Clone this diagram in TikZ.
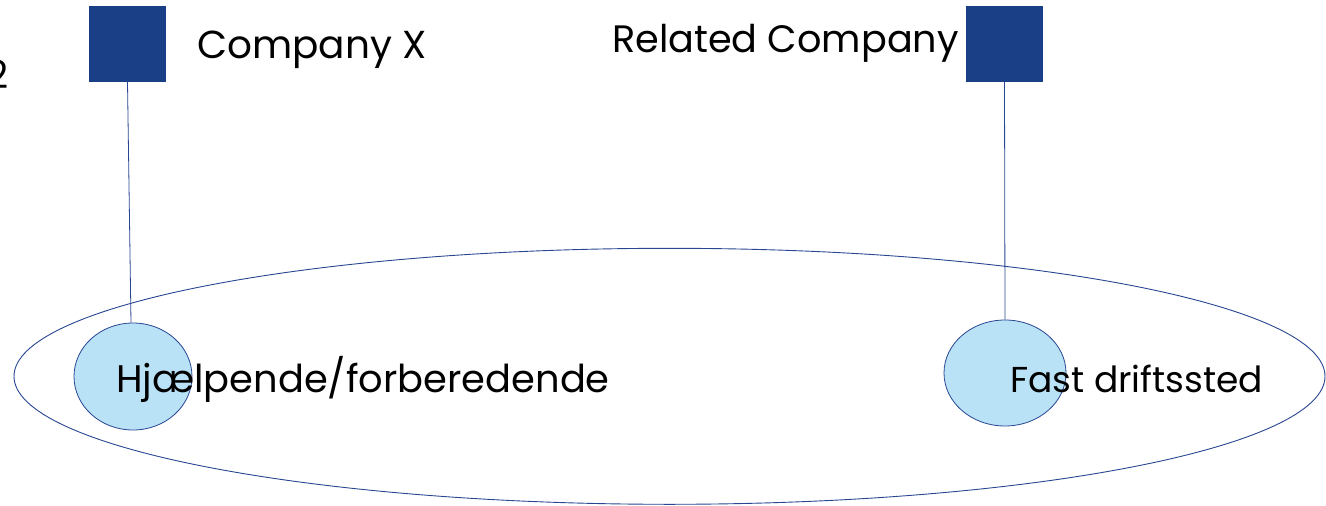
\documentclass[tikz,border=0pt]{standalone}
\usepackage{fontspec}
\setmainfont{Poppins}
\usetikzlibrary{shapes.geometric}
\definecolor{sqfill}{RGB}{27,63,134}
\definecolor{lnblue}{RGB}{40,70,145}
\definecolor{ltblue}{RGB}{185,226,247}
\tikzset{
  sqbox/.style={rectangle, fill=sqfill, draw=none, minimum width=77pt, minimum height=76pt, inner sep=0pt},
  bigring/.style={ellipse, draw=lnblue, line width=0.9pt, inner sep=0pt},
  smallring/.style={ellipse, draw=lnblue, fill=ltblue, line width=0.8pt, inner sep=0pt},
  conn/.style={draw=lnblue, line width=0.8pt},
  lbl/.style={inner sep=0pt, font=\fontsize{#1}{42}\selectfont}
}
\begin{document}
\begin{tikzpicture}[x=1pt,y=-1pt]
\useasboundingbox (0,0) rectangle (1326,506);
\node[sqbox] (sqA) at (127.5,44) {};
\node[sqbox] (sqB) at (1004.5,44) {};
\node[bigring, minimum width=1311pt, minimum height=256pt] (big) at (669.5,376.3) {};
\node[smallring, minimum width=118pt, minimum height=107pt] (cA) at (133,376.5) {};
\node[smallring, minimum width=122pt, minimum height=106pt] (cB) at (1005,373) {};
\draw[conn] (sqA.south) -- ([xshift=-2pt]cA.north);
\draw[conn] (sqB.south) -- (cB.north);
\node[lbl=38.5, anchor=base east] (t2) at (9,88) {2};
\node[lbl=39, anchor=base west] (tX) at (197,58) {Company X};
\node[lbl=38.2, anchor=base west] (tR) at (612,52) {Related Company};
\node[lbl=38.4, anchor=base west] (tH) at (116,392) {Hjælpende/forberedende};
\node[lbl=36, anchor=base west] (tF) at (1010,392) {Fast driftssted};
\end{tikzpicture}
\end{document}
